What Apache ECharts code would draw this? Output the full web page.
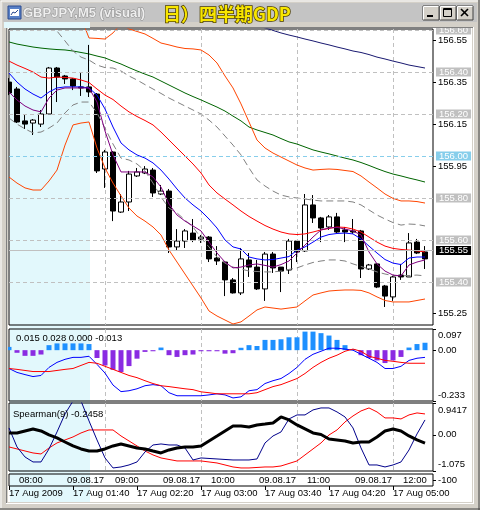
<!DOCTYPE html>
<html><head><meta charset="utf-8">
<script src="https://cdn.jsdelivr.net/npm/echarts@6/dist/echarts.min.js"></script>
<style>html,body{margin:0;padding:0;background:#fff}#c{width:480px;height:510px}</style>
</head><body><div id="c"></div>
<script>
// ---------- data ----------
const categories = ['01:00','01:05','01:10','01:15','01:20','01:25','01:30','01:35','01:40','01:45','01:50','01:55',
 '02:00','02:05','02:10','02:15','02:20','02:25','02:30','02:35','02:40','02:45','02:50','02:55',
 '03:00','03:05','03:10','03:15','03:20','03:25','03:30','03:35','03:40','03:45','03:50','03:55',
 '04:00','04:05','04:10','04:15','04:20','04:25','04:30','04:35','04:40','04:45','04:50','04:55',
 '05:00','05:05','05:10','05:15','05:20','05:25'];
const dateTickLabels = ['17 Aug 2009','17 Aug 01:40','17 Aug 02:20','17 Aug 03:00','17 Aug 03:40','17 Aug 04:20','17 Aug 05:00'];
const jstLabels = ['08:00','09.08.17','09:00','09.08.17','10:00','09.08.17','11:00','09.08.17','12:00'];

const opens  = [156.352,156.319,156.167,156.157,156.152,156.200,156.419,156.381,156.367,156.329,156.329,156.295,155.938,156.019,155.733,155.781,155.905,155.919,155.933,155.819,155.833,155.567,155.595,155.633,155.605,155.614,155.514,155.495,155.410,155.348,155.505,155.471,155.367,155.533,155.471,155.457,155.595,155.548,155.767,155.705,155.662,155.710,155.648,155.643,155.643,155.462,155.486,155.381,155.329,155.433,155.424,155.590,155.543];
const closes = [156.300,156.162,156.152,156.171,156.200,156.419,156.376,156.367,156.333,156.324,156.305,155.929,156.019,155.738,155.781,155.914,155.924,155.938,155.824,155.833,155.567,155.595,155.643,155.600,155.614,155.510,155.500,155.410,155.348,155.510,155.471,155.367,155.533,155.467,155.452,155.595,155.543,155.767,155.705,155.657,155.710,155.638,155.638,155.638,155.462,155.481,155.376,155.333,155.424,155.424,155.586,155.538,155.510];
const lows   = [156.290,156.157,156.129,156.100,156.138,156.200,156.257,156.343,156.314,156.286,156.281,155.919,155.848,155.690,155.729,155.738,155.900,155.914,155.805,155.814,155.538,155.548,155.562,155.590,155.586,155.495,155.481,155.333,155.345,155.338,155.424,155.362,155.310,155.443,155.352,155.438,155.495,155.543,155.681,155.590,155.648,155.633,155.590,155.629,155.419,155.457,155.371,155.281,155.310,155.410,155.424,155.533,155.462];
const highs  = [156.371,156.329,156.195,156.176,156.219,156.424,156.424,156.386,156.371,156.395,156.529,156.300,156.029,156.024,155.819,155.929,155.943,155.952,155.943,155.862,155.843,155.652,155.652,155.700,155.624,155.619,155.571,155.500,155.419,155.562,155.538,155.505,155.543,155.543,155.471,155.605,155.600,155.819,155.814,155.710,155.719,155.729,155.662,155.700,155.648,155.486,155.490,155.386,155.429,155.486,155.633,155.605,155.571];

const maNavy = [null,null,null,null,null,null,null,null,null,null,null,null,null,null,null,null,null,null,null,null,null,null,null,null,null,null,null,null,null,null,null,
 156.62,156.61,156.598,156.586,156.576,156.567,156.557,156.548,156.538,156.529,156.519,156.510,156.500,156.493,156.483,156.471,156.462,156.452,156.443,156.433,156.426,156.419];
const maGreen = [156.543,156.533,156.526,156.519,156.514,156.510,156.507,156.505,156.500,156.493,156.486,156.476,156.467,156.452,156.438,156.421,156.405,156.390,156.376,156.357,156.338,156.319,156.300,156.283,156.267,156.250,156.233,156.214,156.190,156.167,156.138,156.124,156.112,156.100,156.083,156.067,156.057,156.043,156.029,156.019,156.010,156.000,155.990,155.981,155.969,155.955,155.940,155.926,155.914,155.905,155.895,155.886,155.876];
const bandUpper = [156.95,156.95,156.94,156.92,156.88,156.83,156.79,156.76,156.72,156.66,156.562,156.560,156.557,156.586,156.629,156.605,156.593,156.581,156.560,156.538,156.529,156.519,156.512,156.510,156.505,156.481,156.443,156.381,156.324,156.248,156.162,156.076,156.038,156.014,155.995,155.976,155.957,155.943,155.933,155.936,155.938,155.936,155.931,155.926,155.905,155.876,155.848,155.819,155.798,155.786,155.786,155.783,155.776];
const bandLower = [155.900,155.871,155.848,155.838,155.838,155.881,155.933,156.052,156.148,156.157,156.162,156.038,155.943,155.871,155.810,155.752,155.714,155.690,155.662,155.624,155.552,155.495,155.438,155.381,155.324,155.262,155.238,155.219,155.200,155.210,155.238,155.267,155.281,155.276,155.271,155.276,155.281,155.310,155.338,155.348,155.357,155.360,155.362,155.362,155.360,155.348,155.329,155.312,155.305,155.305,155.305,155.312,155.319];
const maRed = [156.452,156.433,156.417,156.400,156.376,156.371,156.376,156.374,156.371,156.362,156.350,156.319,156.290,156.269,156.238,156.210,156.188,156.169,156.148,156.114,156.076,156.038,156.000,155.962,155.919,155.862,155.824,155.795,155.767,155.738,155.712,155.690,155.669,155.652,155.638,155.629,155.626,155.629,155.638,155.648,155.655,155.662,155.660,155.652,155.638,155.614,155.590,155.571,155.560,155.555,155.552,155.548,155.543];
const maBlue = [156.395,156.352,156.319,156.295,156.276,156.305,156.324,156.329,156.329,156.329,156.324,156.290,156.224,156.138,156.062,156.029,156.005,155.990,155.967,155.933,155.890,155.843,155.800,155.767,155.738,155.700,155.657,155.600,155.567,155.557,155.519,155.510,155.505,155.507,155.514,155.521,155.552,155.567,155.590,155.614,155.626,155.631,155.633,155.629,155.605,155.571,155.538,155.507,155.490,155.483,155.514,155.519,155.519];
const maPurple = [156.305,156.267,156.238,156.219,156.210,156.276,156.314,156.324,156.324,156.324,156.324,156.257,156.119,156.005,155.924,155.924,155.924,155.924,155.900,155.852,155.771,155.719,155.690,155.667,155.643,155.590,155.538,155.495,155.467,155.471,155.481,155.486,155.479,155.471,155.483,155.500,155.538,155.576,155.614,155.648,155.657,155.660,155.652,155.643,155.624,155.543,155.486,155.452,155.433,155.429,155.481,155.495,155.505];
const envUpper = [156.80,156.78,156.75,156.72,156.69,156.65,156.595,156.548,156.500,156.471,156.457,156.433,156.421,156.419,156.405,156.381,156.362,156.340,156.319,156.298,156.276,156.257,156.238,156.219,156.200,156.171,156.138,156.095,156.052,156.005,155.943,155.886,155.857,155.833,155.814,155.805,155.800,155.795,155.790,155.786,155.786,155.786,155.786,155.781,155.767,155.743,155.719,155.700,155.683,155.671,155.676,155.674,155.667];
const envLower = [156.181,156.152,156.129,156.110,156.114,156.133,156.157,156.205,156.243,156.257,156.257,156.205,156.133,156.057,155.990,155.981,155.962,155.929,155.871,155.805,155.752,155.729,155.695,155.662,155.610,155.567,155.519,155.490,155.471,155.462,155.452,155.450,155.448,155.448,155.452,155.460,155.467,155.481,155.493,155.500,155.505,155.505,155.500,155.486,155.474,155.462,155.448,155.438,155.431,155.429,155.431,155.433,155.429];

const macdHist = [0.015,-0.012,-0.026,-0.026,-0.020,0.023,0.031,0.031,0.031,0.031,0.028,-0.036,-0.070,-0.090,-0.100,-0.073,-0.039,-0.008,-0.005,0.012,-0.023,-0.031,-0.023,-0.020,-0.005,-0.005,-0.005,-0.016,-0.014,0.011,0.023,0.019,0.047,0.047,0.050,0.059,0.059,0.085,0.085,0.078,0.067,0.047,0.023,0.005,-0.023,-0.036,-0.047,-0.059,-0.047,-0.031,0.012,0.028,0.034];
const macdMain = [-0.084,-0.102,-0.112,-0.121,-0.116,-0.079,-0.056,-0.042,-0.033,-0.033,-0.028,-0.065,-0.105,-0.160,-0.190,-0.186,-0.177,-0.163,-0.158,-0.163,-0.195,-0.209,-0.209,-0.209,-0.209,-0.205,-0.200,-0.205,-0.219,-0.214,-0.186,-0.181,-0.153,-0.140,-0.130,-0.107,-0.079,-0.042,-0.019,-0.005,0.009,0.009,0.005,0.000,-0.019,-0.037,-0.056,-0.084,-0.084,-0.074,-0.047,-0.037,-0.033];
const macdSignal = [-0.084,-0.088,-0.093,-0.098,-0.098,-0.098,-0.093,-0.088,-0.084,-0.070,-0.056,-0.060,-0.074,-0.088,-0.102,-0.116,-0.126,-0.140,-0.153,-0.163,-0.167,-0.172,-0.177,-0.181,-0.191,-0.195,-0.200,-0.200,-0.200,-0.200,-0.200,-0.195,-0.181,-0.167,-0.158,-0.144,-0.130,-0.107,-0.079,-0.056,-0.037,-0.023,-0.005,0.005,-0.005,-0.028,-0.037,-0.047,-0.051,-0.056,-0.060,-0.060,-0.060];

const spBlack = [0.053,0.053,0.113,0.172,0.113,-0.006,-0.095,-0.214,-0.332,-0.421,-0.481,-0.481,-0.421,-0.332,-0.273,-0.332,-0.392,-0.421,-0.481,-0.540,-0.451,-0.392,-0.362,-0.362,-0.332,-0.184,-0.036,0.113,0.261,0.261,0.231,0.291,0.320,0.350,0.528,0.439,0.291,0.172,0.053,0.009,-0.125,-0.154,-0.184,-0.243,-0.214,-0.214,-0.065,0.113,0.172,0.113,-0.036,-0.154,-0.2458];
const spRed = [-0.362,-0.421,-0.481,-0.540,-0.570,-0.392,-0.243,-0.154,-0.065,0.053,0.142,0.142,0.142,0.142,-0.036,-0.184,-0.332,-0.481,-0.599,-0.688,-0.733,-0.777,-0.777,-0.777,-0.777,-0.807,-0.837,-0.896,-0.955,-0.985,-0.985,-0.970,-0.955,-0.955,-0.926,-0.852,-0.777,-0.599,-0.421,-0.243,-0.006,0.142,0.380,0.558,0.706,0.795,0.677,0.499,0.499,0.469,0.588,0.647,0.617];
const spNavy = [0.202,-0.362,-0.659,-0.807,-0.807,-0.420,0.083,0.617,1.0,1.0,0.410,-0.154,-0.688,-0.985,-0.955,-0.896,-0.807,-0.510,-0.303,-0.273,-0.303,-0.303,-0.392,-0.748,-0.688,-0.703,-0.718,-0.733,-0.748,-0.748,-0.748,-0.718,-0.243,-0.036,0.083,0.469,0.588,0.588,0.736,0.795,0.795,0.677,0.528,0.202,-0.392,-0.896,-0.896,-0.955,-0.896,-0.807,-0.451,0.024,0.439];

const priceTicks = [156.55,156.35,156.15,155.95,155.25];
const gridLevels = [156.60,156.40,156.20,155.80,155.60,155.40];
const hLineLevel = 156.00;
const bidLevel = 155.55;
const macdTickValues = [0.097,0,-0.233];
const macdTickLabels = ['0.097','0.00','-0.233'];
const spTickValues = [0.9417,0,-1.075];
const spTickLabels = ['0.9417','0.00','-1.075'];
const macdLegend = '0.015 0.028 0.000 -0.013';
const spLegend = 'Spearman(9) -0.2458';

// ---------- chart ----------
const FONT = '"Liberation Sans", Arial, sans-serif';
const FS = 9.5;
const txt = {fontFamily: FONT, fontSize: FS, color: '#000'};
const chart = echarts.init(document.getElementById('c'), null, {renderer: 'canvas', width: 480, height: 510});

function gridDef(top, height) {
  return {left: 9, width: 424, top: top, height: height, show: true, borderColor: '#000', borderWidth: 1,
          backgroundColor: 'transparent', containLabel: false, outerBoundsMode: 'none'};
}
function xa(gi) {
  return {type: 'category', gridIndex: gi, data: categories, boundaryGap: false,
    axisLine: {show: false}, axisTick: {show: false}, axisLabel: {show: false},
    splitLine: {show: true, interval: (i) => i > 0 && i % 12 === 0, lineStyle: {color: '#c0c0c0', type: [4, 3], width: 1}}};
}
function edgeLabels(values, texts, padTop, padBot) {
  return {
    customValues: values, margin: 5,
    formatter: (v) => {
      const k = values.findIndex(x => Math.abs(x - v) < 1e-9);
      const t = texts[k];
      if (k === 0) return '{t|' + t + '}';
      if (k === values.length - 1) return '{b|' + t + '}';
      return '{m|' + t + '}';
    },
    rich: {
      t: Object.assign({padding: [padTop, 0, 0, 0]}, txt),
      b: Object.assign({padding: [0, 0, padBot, 0]}, txt),
      m: Object.assign({}, txt)
    }
  };
}
function ln(data, color, extra) {
  return Object.assign({type: 'line', data: data, xAxisIndex: 0, yAxisIndex: 0, showSymbol: false, symbol: 'none',
    lineStyle: {color: color, width: 1}, z: 3, silent: true, animation: false}, extra || {});
}
function boxLabel(text, bg, fg) {
  return {show: true, position: 'end', distance: 3, formatter: text, backgroundColor: bg, color: fg,
    padding: [0, 3, 0, 3], lineHeight: 9, fontFamily: FONT, fontSize: FS};
}

const markData = gridLevels.map(v => ({yAxis: v, lineStyle: {color: '#c0c0c0', type: [4, 3], width: 1},
  label: boxLabel(v.toFixed(2), '#c0c0c0', '#ffffff')}));
markData.push({yAxis: hLineLevel, lineStyle: {color: '#87ceeb', type: [4, 3], width: 1},
  label: boxLabel(hLineLevel.toFixed(2), '#87ceeb', '#ffffff')});
markData.push({yAxis: bidLevel, lineStyle: {color: '#c0c0c0', type: 'solid', width: 1},
  label: boxLabel(bidLevel.toFixed(2), '#000000', '#ffffff')});

const candleData = opens.map((o, i) => [o, closes[i], lows[i], highs[i]]);

const chrome = [];
// light-blue highlighted period
chrome.push({type: 'rect', z: -10, silent: true, shape: {x: 10, y: 22, width: 80, height: 481}, style: {fill: '#e2f8fc'}});
// window frame
chrome.push({type: 'rect', z: 100, silent: true, shape: {x: 0, y: 0, width: 480, height: 28}, style: {fill: '#d4d0c8'}});
chrome.push({type: 'rect', z: 101, silent: true, shape: {x: 3, y: 3, width: 474, height: 19}, style: {fill: '#c4c4c4'}});
chrome.push({type: 'rect', z: 100, silent: true, shape: {x: 0, y: 28, width: 8, height: 482}, style: {fill: '#d4d0c8'}});
chrome.push({type: 'rect', z: 100, silent: true, shape: {x: 472, y: 28, width: 8, height: 482}, style: {fill: '#d4d0c8'}});
chrome.push({type: 'rect', z: 100, silent: true, shape: {x: 0, y: 502, width: 480, height: 8}, style: {fill: '#d4d0c8'}});
chrome.push({type: 'line', z: 102, silent: true, shape: {x1: 1, y1: 1, x2: 478, y2: 1}, style: {stroke: '#ffffff', lineWidth: 1}});
chrome.push({type: 'line', z: 102, silent: true, shape: {x1: 1, y1: 1, x2: 1, y2: 508}, style: {stroke: '#ffffff', lineWidth: 1}});
chrome.push({type: 'line', z: 102, silent: true, shape: {x1: 479, y1: 0, x2: 479, y2: 510}, style: {stroke: '#404040', lineWidth: 1}});
chrome.push({type: 'line', z: 102, silent: true, shape: {x1: 0, y1: 509, x2: 480, y2: 509}, style: {stroke: '#404040', lineWidth: 1}});
chrome.push({type: 'line', z: 102, silent: true, shape: {x1: 6.5, y1: 27, x2: 6.5, y2: 503}, style: {stroke: '#808080', lineWidth: 1}});
chrome.push({type: 'line', z: 102, silent: true, shape: {x1: 6, y1: 27.5, x2: 474, y2: 27.5}, style: {stroke: '#808080', lineWidth: 1}});
chrome.push({type: 'line', z: 102, silent: true, shape: {x1: 473.5, y1: 27, x2: 473.5, y2: 504}, style: {stroke: '#ffffff', lineWidth: 1}});
chrome.push({type: 'line', z: 102, silent: true, shape: {x1: 6, y1: 503.5, x2: 474, y2: 503.5}, style: {stroke: '#ffffff', lineWidth: 1}});
// cyan overlay also tints the frame strip above the chart
chrome.push({type: 'rect', z: 103, silent: true, shape: {x: 4, y: 22, width: 86, height: 6}, style: {fill: '#e2f8fc'}});
// icon
chrome.push({type: 'rect', z: 104, silent: true, shape: {x: 8, y: 6, width: 13, height: 13}, style: {fill: '#5a82c8', stroke: '#2a4a90', lineWidth: 1}});
chrome.push({type: 'rect', z: 105, silent: true, shape: {x: 10, y: 9, width: 9, height: 7}, style: {fill: '#ffffff'}});
chrome.push({type: 'polyline', z: 106, silent: true, shape: {points: [[11, 15], [13, 12], [15, 13], [18, 10]]}, style: {stroke: '#2a4a90', lineWidth: 1, fill: null}});
// title texts
chrome.push({type: 'text', z: 104, silent: true, style: {text: 'GBPJPY,M5 (visual)', x: 23, y: 13, verticalAlign: 'middle',
  font: 'bold 13px "Liberation Sans", Arial, sans-serif', fill: '#eeeeee', stroke: '#8e8e8e', lineWidth: 1}});
chrome.push({type: 'text', z: 104, silent: true, style: {text: '日）四半期GDP', x: 163, y: 14, verticalAlign: 'middle',
  font: 'bold 18px "Noto Sans CJK JP", sans-serif', fill: '#f8e600', stroke: '#4a3c00', lineWidth: 1.5}});
// buttons
[[423, '_'], [440, 'max'], [457, 'x']].forEach(([bx, kind]) => {
  chrome.push({type: 'rect', z: 104, silent: true, shape: {x: bx, y: 6, width: 16, height: 14}, style: {fill: '#d4d0c8', stroke: '#404040', lineWidth: 1}});
  chrome.push({type: 'polyline', z: 105, silent: true, shape: {points: [[bx + 0.5, 19.5], [bx + 0.5, 6.5], [bx + 15.5, 6.5]]}, style: {stroke: '#ffffff', lineWidth: 1, fill: null}});
  if (kind === '_') chrome.push({type: 'rect', z: 106, silent: true, shape: {x: bx + 4, y: 15, width: 6, height: 2}, style: {fill: '#000'}});
  if (kind === 'max') chrome.push({type: 'rect', z: 106, silent: true, shape: {x: bx + 3.5, y: 8.5, width: 8, height: 8}, style: {fill: null, stroke: '#000', lineWidth: 1}});
  if (kind === 'max') chrome.push({type: 'line', z: 106, silent: true, shape: {x1: bx + 3.5, y1: 9.5, x2: bx + 11.5, y2: 9.5}, style: {stroke: '#000', lineWidth: 1}});
  if (kind === 'x') {
    chrome.push({type: 'line', z: 106, silent: true, shape: {x1: bx + 4, y1: 9, x2: bx + 11, y2: 16}, style: {stroke: '#000', lineWidth: 1.6}});
    chrome.push({type: 'line', z: 106, silent: true, shape: {x1: bx + 11, y1: 9, x2: bx + 4, y2: 16}, style: {stroke: '#000', lineWidth: 1.6}});
  }
});

const option = {
  backgroundColor: '#ffffff',
  animation: false,
  title: [
    {text: macdLegend, left: 16, top: 333, padding: 0, textStyle: {fontFamily: FONT, fontSize: FS, fontWeight: 'normal', color: '#000'}},
    {text: spLegend, left: 13, top: 409, padding: 0, textStyle: {fontFamily: FONT, fontSize: FS, fontWeight: 'normal', color: '#000'}}
  ],
  grid: [gridDef(29, 296), gridDef(329, 72), gridDef(403, 68), gridDef(474, 12)],
  xAxis: [
    xa(0), xa(1), xa(2),
    {type: 'category', gridIndex: 3, data: categories, boundaryGap: false, position: 'bottom',
      axisLine: {show: false}, splitLine: {show: false},
      axisTick: {show: true, interval: (i) => i % 8 === 0 && i <= 48, length: 4, lineStyle: {color: '#000'}},
      axisLabel: Object.assign({show: true, interval: (i) => i % 8 === 0 && i <= 48, formatter: (v, i) => dateTickLabels[i / 8], align: 'left', margin: 2}, txt)},
    {type: 'category', gridIndex: 3, data: categories, boundaryGap: false, position: 'top',
      axisLine: {show: false}, splitLine: {show: false}, axisTick: {show: false},
      axisLabel: Object.assign({show: true, inside: true, interval: (i) => i % 6 === 1 && i <= 49, formatter: (v, i) => jstLabels[(i - 1) / 6], align: 'left', margin: 1, padding: [0, 0, 0, 2]}, txt)}
  ],
  yAxis: [
    {type: 'value', gridIndex: 0, position: 'right', min: 155.1952, max: 156.6048, scale: true,
      axisLine: {show: false}, splitLine: {show: false},
      axisTick: {show: true, customValues: priceTicks, length: 3, lineStyle: {color: '#000'}},
      axisLabel: Object.assign({customValues: priceTicks, formatter: (v) => v.toFixed(2), margin: 5}, txt)},
    {type: 'value', gridIndex: 1, position: 'right', min: -0.233, max: 0.097,
      axisLine: {show: false}, splitLine: {show: false},
      axisTick: {show: true, customValues: macdTickValues, length: 3, lineStyle: {color: '#000'}},
      axisLabel: edgeLabels(macdTickValues, macdTickLabels, 12, 12)},
    {type: 'value', gridIndex: 2, position: 'right', min: -1.075, max: 0.9417,
      axisLine: {show: false}, splitLine: {show: false},
      axisTick: {show: true, customValues: spTickValues, length: 3, lineStyle: {color: '#000'}},
      axisLabel: edgeLabels(spTickValues, spTickLabels, 15, 14)},
    {type: 'value', gridIndex: 3, position: 'right', min: -150, max: -50,
      axisLine: {show: false}, splitLine: {show: false},
      axisTick: {show: true, customValues: [-100], length: 3, lineStyle: {color: '#000'}},
      axisLabel: Object.assign({customValues: [-100], formatter: () => '-100', margin: 5}, txt)}
  ],
  graphic: chrome,
  series: [
    ln(maGreen, '#006400', {z: 1, markLine: {symbol: 'none', silent: true, animation: false, data: markData}}),
    {type: 'candlestick', xAxisIndex: 0, yAxisIndex: 0, data: candleData, barWidth: 5, z: 2, silent: true, animation: false,
      itemStyle: {color: '#ffffff', color0: '#000000', borderColor: '#000000', borderColor0: '#000000', borderWidth: 1}},
    ln(maNavy, '#191970'),
    ln(bandUpper, '#ff4500'),
    ln(bandLower, '#ff4500'),
    ln(envUpper, '#808080', {lineStyle: {color: '#808080', width: 1, type: [7, 4]}}),
    ln(envLower, '#808080', {lineStyle: {color: '#808080', width: 1, type: [7, 4]}}),
    ln(maRed, '#ff0000'),
    ln(maBlue, '#0000ff'),
    ln(maPurple, '#800080'),
    {type: 'bar', xAxisIndex: 1, yAxisIndex: 1, data: macdHist, barWidth: 5, silent: true, animation: false, z: 2,
      itemStyle: {color: (p) => p.value >= 0 ? '#1e90ff' : '#8a2be2'}},
    ln(macdMain, '#0000ff', {xAxisIndex: 1, yAxisIndex: 1}),
    ln(macdSignal, '#ff0000', {xAxisIndex: 1, yAxisIndex: 1}),
    ln(spRed, '#ff0000', {xAxisIndex: 2, yAxisIndex: 2}),
    ln(spNavy, '#00008b', {xAxisIndex: 2, yAxisIndex: 2}),
    ln(spBlack, '#000000', {xAxisIndex: 2, yAxisIndex: 2, lineStyle: {color: '#000', width: 3}, z: 4})
  ]
};
chart.setOption(option);
</script>
</body></html>
